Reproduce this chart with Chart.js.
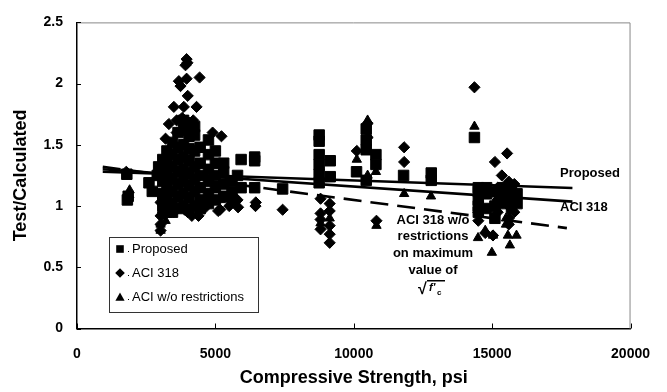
<!DOCTYPE html>
<html lang="en">
<head>
    <meta charset="UTF-8">
    <title>Test/Calculated vs Compressive Strength</title>
    <script src="https://cdn.jsdelivr.net/npm/chart.js"></script>
    <style>
        body { margin: 0; background: #fff; }
        #wrap { width: 667px; height: 392px; }
    </style>
</head>
<body>
    <div id="wrap"><canvas id="strengthChart" width="667" height="392"></canvas></div>

    <script>
        // Proposed (squares)
        const proposedX = [1820, 1850, 1800, 2600, 2720, 2900, 2950,
            3100, 3100, 3100, 3100, 3100, 3100,
            3250, 3250, 3250, 3250, 3250, 3250,
            3450, 3450, 3450, 3450, 3450, 3450, 3450,
            3650, 3650, 3650, 3650, 3650, 3650, 3650,
            3850, 3850, 3850, 3850, 3850, 3850, 3850, 3850,
            4050, 4050, 4050, 4050, 4050, 4050, 4050, 4050,
            4250, 4250, 4250, 4250, 4250, 4250, 4250,
            4450, 4450, 4450, 4450, 4450, 4450,
            4750, 4750, 4750, 4750, 4750, 4750,
            5000, 5000, 5000, 5000, 5000, 5300, 5300, 5300, 5300, 5600, 5600, 5600, 5800,
            5930, 5930, 6420, 6420, 6420, 7430,
            8750, 8750, 8750, 8750, 8750, 8750, 9150, 9150,
            10100, 10450, 10450, 10450, 10450, 10800, 10800, 11800, 12800, 12800,
            14360, 14500, 14500, 14500, 14500, 14500, 14800, 14800, 14800,
            15100, 15100, 15100, 15400, 15400, 15400, 15700, 15700, 15700, 15900, 15900];
        const proposedY = [1.05, 1.08, 1.26, 1.19, 1.12, 1.25, 1.32,
            1.0, 1.1, 1.2, 1.3, 1.38, 1.05,
            0.95, 1.05, 1.15, 1.25, 1.35, 1.45,
            1.02, 1.12, 1.22, 1.32, 1.42, 1.52, 0.95,
            0.98, 1.08, 1.18, 1.28, 1.38, 1.48, 1.6,
            1.0, 1.1, 1.2, 1.3, 1.4, 1.5, 1.62, 1.7,
            0.97, 1.07, 1.17, 1.27, 1.37, 1.47, 1.57, 1.68,
            1.0, 1.12, 1.22, 1.32, 1.45, 1.58, 1.65,
            1.05, 1.15, 1.25, 1.35, 1.48, 0.98,
            1.1, 1.2, 1.3, 1.42, 1.54, 1.02,
            1.05, 1.15, 1.25, 1.35, 1.45, 1.08, 1.18, 1.28, 1.35, 1.05, 1.12, 1.2, 1.25,
            1.38, 1.15, 1.37, 1.40, 1.15, 1.14,
            1.58, 1.53, 1.42, 1.34, 1.26, 1.19, 1.37, 1.24,
            1.28, 1.63, 1.54, 1.46, 1.21, 1.42, 1.34, 1.25, 1.27, 1.21,
            1.56, 1.15, 1.12, 1.05, 1.0, 0.95, 1.15, 1.1, 0.98,
            1.12, 1.0, 0.9, 1.15, 1.08, 1.02, 1.13, 1.05, 0.98, 1.1, 1.02];

        // ACI 318 (diamonds)
        const aci318X = [1780, 3960, 3920, 3990, 3960, 4430, 3680, 3740, 3500, 3860, 4320, 3320,
            3020, 3020, 3020, 3020, 3100, 3200, 3200, 3600, 3600, 3800, 3800, 4000, 4000, 4200, 4200,
            3500, 3500, 4000, 4150, 4390, 4600, 4900, 5220, 5170, 5100, 5500, 5820, 5800, 6460, 6450, 7430,
            8800, 8800, 8800, 8800, 9130, 9130, 9130, 9130, 9130,
            10110, 10500, 10500, 10820, 11820, 11820,
            14360, 15100, 15540, 15350, 14750, 15030, 14500, 14500,
            15200, 15200, 15200, 15600, 15600, 15600, 15600, 15600, 15800, 15800, 15800];
        const aci318Y = [1.28, 2.2, 2.15, 2.17, 2.04, 2.05, 2.02, 1.98, 1.81, 1.81, 1.81, 1.67,
            1.03, 0.92, 0.85, 0.8, 0.95, 1.4, 1.55, 1.6, 1.7, 1.5, 1.72, 1.65, 1.9, 1.7, 1.6,
            0.95, 1.0, 0.95, 0.92, 0.92, 0.98, 1.6, 1.57, 0.97, 0.96, 1.0, 0.99, 1.05, 1.03, 1.0, 0.97,
            1.06, 0.94, 0.89, 0.81, 1.02, 0.96, 0.84, 0.77, 0.70,
            1.45, 1.675, 1.56, 0.88, 1.48, 1.36,
            1.97, 1.36, 1.43, 1.25, 0.78, 0.76, 0.88, 0.95,
            1.15, 1.05, 0.95, 1.2, 1.1, 1.0, 0.9, 0.85, 1.18, 1.08, 0.95];

        // ACI w/o restrictions (triangles)
        const aciNoLimitX = [1890, 1900, 3020, 3020, 3200, 3200, 3500, 3500, 4000, 4000, 4500, 5200,
            8800, 9130, 10110, 10500, 10500, 10800, 10820, 11820, 12790,
            14360, 14490, 14750, 15030, 15570, 15880, 15640, 14990, 15500, 15500];
        const aciNoLimitY = [1.09, 1.13, 0.8, 0.85, 0.88, 0.95, 1.0, 1.1, 1.05, 1.15, 1.0, 1.05,
            0.86, 0.9, 1.38, 1.7, 1.25, 1.28, 0.84, 1.10, 1.08,
            1.65, 0.74, 0.80, 0.76, 0.76, 0.76, 0.68, 0.62, 0.85, 0.9];

        // trend lines
        const trendX = [930, 17900];
        const proposedTrend = [1.28, 1.148];
        const aci318Trend = [1.30, 1.036];
        const dashedTrendX = [930, 17700];
        const aciNoLimitTrend = [1.32, 0.82];

        const xTicks = [0, 5000, 10000, 15000, 20000];
        const yTicks = [0, 0.5, 1, 1.5, 2, 2.5];
        const legendLabels = ['Proposed', 'ACI 318', 'ACI w/o restrictions'];

        const toPoints = (xs, ys) => xs.map((x, i) => ({ x: x, y: ys[i] }));

        function marker(ctx, shape, x, y, r) {
            ctx.beginPath();
            if (shape === 'rect') {
                ctx.rect(x - r, y - r, 2 * r, 2 * r);
            } else if (shape === 'rectRot') {
                ctx.moveTo(x, y - r); ctx.lineTo(x + r, y); ctx.lineTo(x, y + r); ctx.lineTo(x - r, y);
                ctx.closePath();
            } else {
                ctx.moveTo(x, y - r); ctx.lineTo(x + r, y + r * 0.8); ctx.lineTo(x - r, y + r * 0.8);
                ctx.closePath();
            }
            ctx.fill();
        }

        const extras = {
            id: 'extras',
            afterDraw(chart) {
                const ctx = chart.ctx;
                const a = chart.chartArea;
                const xs = chart.scales.x, ys = chart.scales.y;
                ctx.save();
                // top and right frame
                ctx.strokeStyle = '#888';
                ctx.lineWidth = 1;
                ctx.beginPath();
                ctx.moveTo(a.left, a.top + 0.5); ctx.lineTo(a.right - 0.5, a.top + 0.5); ctx.lineTo(a.right - 0.5, a.bottom);
                ctx.stroke();
                // inside ticks
                ctx.strokeStyle = '#000';
                ctx.beginPath();
                xTicks.forEach(v => {
                    const px = Math.round(xs.getPixelForValue(v)) + 0.5;
                    ctx.moveTo(px, a.bottom); ctx.lineTo(px, a.bottom - 5);
                });
                yTicks.forEach(v => {
                    const py = Math.round(ys.getPixelForValue(v)) + 0.5;
                    ctx.moveTo(a.left, py); ctx.lineTo(a.left + 4, py);
                });
                ctx.stroke();

                // legend box
                ctx.fillStyle = '#fff';
                ctx.fillRect(109, 237, 149, 75);
                ctx.strokeStyle = '#333';
                ctx.strokeRect(109.5, 237.5, 149, 75);
                ctx.fillStyle = '#000';
                ctx.font = '13px Arial, "Liberation Sans", sans-serif';
                ctx.textBaseline = 'middle';
                ctx.textAlign = 'left';
                const shapes = ['rect', 'rectRot', 'triangle'];
                const sizes = [3.8, 4.8, 4.6];
                legendLabels.forEach((t, i) => {
                    const y = 249 + i * 24;
                    marker(ctx, shapes[i], 120, y, sizes[i]);
                    ctx.fillRect(128, y + 2, 1, 1);
                    ctx.fillText(t, 132, y);
                });

                // annotations
                ctx.font = 'bold 13px Arial, "Liberation Sans", sans-serif';
                ctx.fillText('Proposed', 560, 173);
                ctx.fillText('ACI 318', 560, 207);
                ctx.textAlign = 'center';
                ['ACI 318 w/o', 'restrictions', 'on maximum', 'value of'].forEach((t, i) => {
                    ctx.fillText(t, 433, 220 + i * 16.7);
                });
                // sqrt(f'c)
                ctx.font = 'bold 16px Arial, sans-serif';
                ctx.textAlign = 'left';
                ctx.fillText('\u221A', 418, 290);
                ctx.font = 'bold italic 11px Arial, sans-serif';
                ctx.fillText("f'", 429, 288);
                ctx.font = 'bold 8px Arial, sans-serif';
                ctx.fillText('c', 437, 293);
                ctx.fillRect(427, 280, 18, 1.5);
                ctx.restore();
            }
        };

        const pointSet = (label, data, style, r) => ({
            type: 'scatter',
            label: label,
            data: data,
            pointStyle: style,
            pointRadius: r,
            pointBackgroundColor: '#000',
            pointBorderColor: '#000',
            pointBorderWidth: 1
        });

        const lineSet = (label, data, dash) => ({
            type: 'scatter',
            label: label,
            data: data,
            showLine: true,
            borderColor: '#000',
            borderWidth: 2.6,
            borderDash: dash,
            pointRadius: 0
        });

        const ctx = document.getElementById('strengthChart').getContext('2d');
        new Chart(ctx, {
            type: 'scatter',
            data: {
                datasets: [
                    lineSet('Proposed trend', toPoints(trendX, proposedTrend), []),
                    lineSet('ACI 318 trend', toPoints(trendX, aci318Trend), []),
                    lineSet('ACI w/o trend', toPoints(dashedTrendX, aciNoLimitTrend), [18, 9]),
                    pointSet(legendLabels[2], toPoints(aciNoLimitX, aciNoLimitY), 'triangle', 5.4),
                    pointSet(legendLabels[1], toPoints(aci318X, aci318Y), 'rectRot', 5.6),
                    pointSet(legendLabels[0], toPoints(proposedX, proposedY), 'rect', 7.4)
                ]
            },
            options: {
                responsive: false,
                animation: false,
                layout: { padding: { top: 16, right: 31, left: 0, bottom: 0 } },
                plugins: { legend: { display: false }, tooltip: { enabled: false } },
                scales: {
                    x: {
                        type: 'linear',
                        min: 0, max: 20000,
                        afterFit(scale) { scale.height = 63.5; },
                        afterBuildTicks(scale) { scale.ticks = xTicks.map(v => ({ value: v })); },
                        grid: { display: false, drawTicks: false },
                        border: { display: true, color: '#000', width: 1.5 },
                        ticks: {
                            padding: 17,
                            color: '#000',
                            maxRotation: 0,
                            callback: v => String(v),
                            font: { family: 'Arial, "Liberation Sans", sans-serif', size: 14, weight: 'bold' }
                        },
                        title: {
                            display: true,
                            text: 'Compressive Strength, psi',
                            color: '#000',
                            padding: { top: 0, bottom: 3 },
                            font: { family: 'Arial, "Liberation Sans", sans-serif', size: 18, weight: 'bold' }
                        }
                    },
                    y: {
                        type: 'linear',
                        min: 0, max: 2.5,
                        afterFit(scale) { scale.width = 77; },
                        afterBuildTicks(scale) { scale.ticks = yTicks.map(v => ({ value: v })); },
                        grid: { display: false, drawTicks: false },
                        border: { display: true, color: '#000', width: 1.5 },
                        ticks: {
                            padding: 14,
                            color: '#000',
                            callback: v => String(v),
                            font: { family: 'Arial, "Liberation Sans", sans-serif', size: 14, weight: 'bold' }
                        },
                        title: {
                            display: true,
                            text: 'Test/Calculated',
                            color: '#000',
                            padding: { top: 10, bottom: 0 },
                            font: { family: 'Arial, "Liberation Sans", sans-serif', size: 18, weight: 'bold' }
                        }
                    }
                }
            },
            plugins: [extras]
        });
    </script>
</body>
</html>
